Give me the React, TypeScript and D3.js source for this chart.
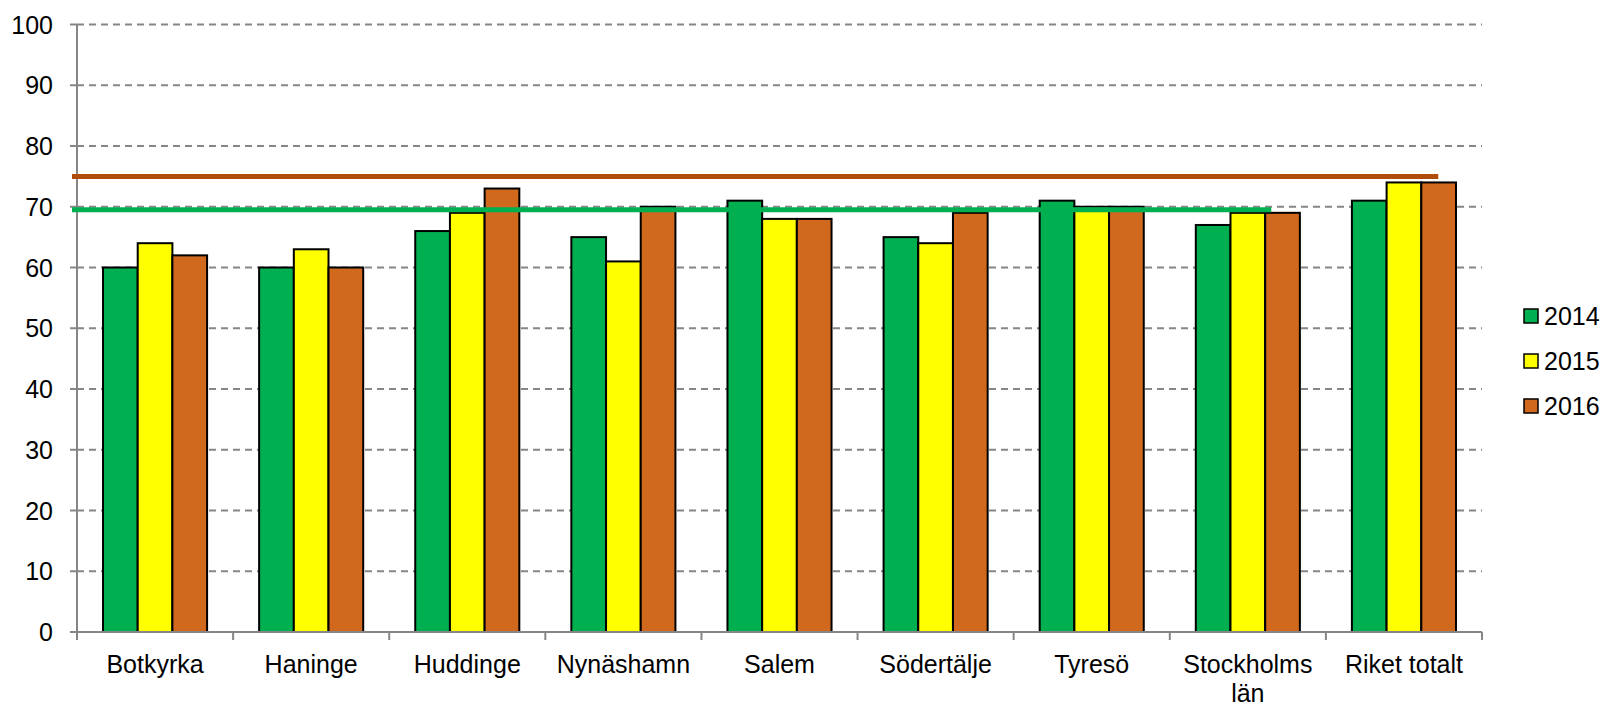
import React from "react";
import * as d3 from "d3";

const categories: string[][] = [
  ["Botkyrka"],
  ["Haninge"],
  ["Huddinge"],
  ["Nynäshamn"],
  ["Salem"],
  ["Södertälje"],
  ["Tyresö"],
  ["Stockholms", "län"],
  ["Riket totalt"],
];
const years = ["2014", "2015", "2016"];
const values2014 = [60, 60, 66, 65, 71, 65, 71, 67, 71];
const values2015 = [64, 63, 69, 61, 68, 64, 70, 69, 74];
const values2016 = [62, 60, 73, 70, 68, 69, 70, 69, 74];
const yTicks = [0, 10, 20, 30, 40, 50, 60, 70, 80, 90, 100];
const refValues = [75, 69.5];

const W = 1604;
const H = 706;
const left = 77;
const right = 1482;
const top = 24.5;
const bottom = 632;
const colors = ["#00B050", "#FFFF00", "#D0691E"];
const refColors = ["#B04C0C", "#00B050"];
const refEnds = [8.72, 7.65];
const font = "Arial, 'Liberation Sans', sans-serif";
const axisColor = "#868686";

export default function App() {
  const series = [values2014, values2015, values2016];
  const keys = categories.map((c) => c.join(" "));
  const x = d3.scaleBand<string>().domain(keys).range([left, right]).padding(0);
  const bw = x.bandwidth();
  const xs = d3.scaleBand<string>().domain(years).range([bw / 6, (bw * 5) / 6]).padding(0);
  const y = d3.scaleLinear().domain([0, 100]).range([bottom, top]);
  const xi = d3.scaleLinear().domain([0, categories.length]).range([left, right]);

  return (
    <div style={{ position: "absolute", left: 0, top: 0 }}>
      <svg width={W} height={H} style={{ display: "block", background: "#fff" }}>
        {/* gridlines */}
        {yTicks.filter((t) => t > 0).map((t) => (
          <line key={"g" + t} x1={left} x2={right} y1={y(t)} y2={y(t)} stroke={axisColor} strokeWidth={2} strokeDasharray="7,5" />
        ))}
        {/* y ticks */}
        {yTicks.map((t) => (
          <g key={"t" + t}>
            <line x1={left - 7} x2={left} y1={y(t)} y2={y(t)} stroke={axisColor} strokeWidth={2} />
            <text x={53} y={y(t)} dy="0.36em" textAnchor="end" fontFamily={font} fontSize={25} fill="#000">
              {t}
            </text>
          </g>
        ))}
        {/* bars */}
        {series.map((vals, si) =>
          vals.map((v, ci) => (
            <rect
              key={`b${si}-${ci}`}
              x={(x(keys[ci]) as number) + (xs(years[si]) as number)}
              y={y(v)}
              width={xs.bandwidth()}
              height={bottom - y(v)}
              fill={colors[si]}
              stroke="#000"
              strokeWidth={2}
            />
          ))
        )}
        {/* axes */}
        <line x1={left} x2={left} y1={top} y2={bottom} stroke={axisColor} strokeWidth={2} />
        <line x1={left - 7} x2={right} y1={bottom} y2={bottom} stroke={axisColor} strokeWidth={2} />
        {d3.range(categories.length + 1).map((i) => (
          <line key={"xt" + i} x1={xi(i)} x2={xi(i)} y1={bottom} y2={bottom + 8} stroke={axisColor} strokeWidth={2} />
        ))}
        {/* category labels */}
        {categories.map((lines, ci) => (
          <text key={"c" + ci} x={(x(keys[ci]) as number) + bw / 2} y={673} textAnchor="middle" fontFamily={font} fontSize={25} fill="#000">
            {lines.map((l, li) => (
              <tspan key={li} x={(x(keys[ci]) as number) + bw / 2} dy={li === 0 ? 0 : 29}>
                {l}
              </tspan>
            ))}
          </text>
        ))}
        {/* reference lines */}
        {refValues.map((v, i) => (
          <line key={"r" + i} x1={72} x2={xi(refEnds[i])} y1={y(v)} y2={y(v)} stroke={refColors[i]} strokeWidth={5} />
        ))}
        {/* legend */}
        {years.map((yr, i) => (
          <g key={"l" + yr} transform={`translate(1524, ${316 + i * 45})`}>
            <rect x={0} y={-7} width={14} height={14} fill={colors[i]} stroke="#000" strokeWidth={1.5} />
            <text x={20} y={0} dy="0.36em" fontFamily={font} fontSize={25} fill="#000">
              {yr}
            </text>
          </g>
        ))}
      </svg>
    </div>
  );
}
